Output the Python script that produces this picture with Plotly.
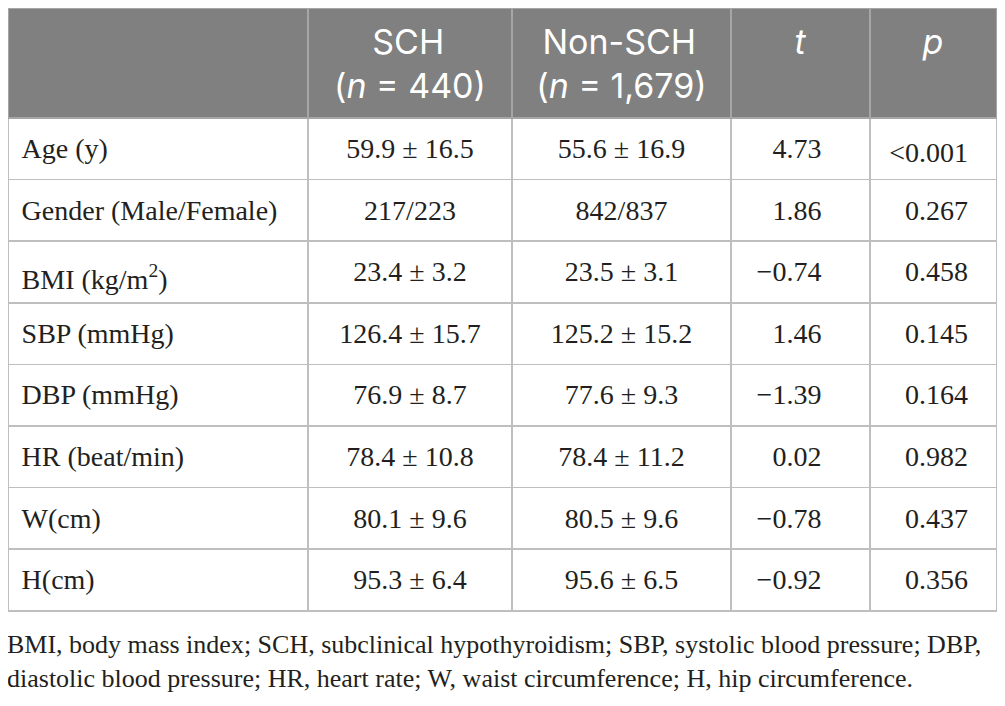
import plotly.graph_objects as go

# table contents
variables = ["Age (y)", "Gender (Male/Female)", "BMI (kg/m<sup>2</sup>)", "SBP (mmHg)",
             "DBP (mmHg)", "HR (beat/min)", "W(cm)", "H(cm)"]
sch = ["59.9 ± 16.5", "217/223", "23.4 ± 3.2", "126.4 ± 15.7",
       "76.9 ± 8.7", "78.4 ± 10.8", "80.1 ± 9.6", "95.3 ± 6.4"]
non_sch = ["55.6 ± 16.9", "842/837", "23.5 ± 3.1", "125.2 ± 15.2",
           "77.6 ± 9.3", "78.4 ± 11.2", "80.5 ± 9.6", "95.6 ± 6.5"]
t_vals = ["4.73", "1.86", "−0.74", "1.46", "−1.39", "0.02", "−0.78", "−0.92"]
p_vals = ["<0.001", "0.267", "0.458", "0.145", "0.164", "0.982", "0.437", "0.356"]

# first header line padded with nbsp so it centres over the second line
headers = ["",
           "\u00a0\u00a0\u00a0\u00a0SCH<br>(<i>n</i> = 440)",
           "\u2009Non-SCH<br>(<i>n</i> = 1,679)",
           "<i>t</i>", "<i>p</i>"]
footnote = ("BMI, body mass index; SCH, subclinical hypothyroidism; SBP, systolic blood pressure; DBP,<br>"
            "diastolic blood pressure; HR, heart rate; W, waist circumference; H, hip circumference.")

# page body has an 8px margin, so keep the figure inside the window
W, H = 989, 690
colw = [300, 204, 219, 139, 127]
n_rows = len(variables)
clear = "rgba(0,0,0,0)"
t_pad = "\u00a0" * 5 + "\u2009"
p_pad = "\u00a0" * 3

# grid + header fill
grid = go.Table(
    domain=dict(x=[0, 1], y=[0, 1]),
    columnwidth=colw,
    header=dict(
        values=[""] * len(colw),
        fill_color="#808080",
        line=dict(color="#a6a6a6", width=1.5),
        height=110,
    ),
    cells=dict(
        values=[[""] * n_rows for _ in colw],
        fill_color="white",
        line=dict(color="#bfbfbf", width=1.5),
        height=61.6,
    ),
)

# header text, nudged down a little
head_text = go.Table(
    domain=dict(x=[0, 1], y=[0, 1 - 5 / H]),
    columnwidth=colw,
    header=dict(
        values=headers,
        fill_color=clear,
        line=dict(color=clear, width=0),
        font=dict(family="Inter", size=34, color="white"),
        align="center",
        height=110,
    ),
    cells=dict(values=[[] for _ in colw], fill_color=clear,
               line=dict(color=clear, width=0)),
)

# body text, shifted down so text sits mid-row
body = go.Table(
    domain=dict(x=[0, 1], y=[0, 1 - 11 / H]),
    columnwidth=colw,
    header=dict(values=[""] * len(colw), fill_color=clear,
                line=dict(color=clear, width=0), height=110),
    cells=dict(
        values=[["\u2009" + v for v in variables], sch, non_sch,
                [v + t_pad for v in t_vals], [v + p_pad for v in p_vals]],
        fill_color=clear,
        line=dict(color=clear, width=0),
        font=dict(family="Liberation Serif", size=28, color="#231f20"),
        align=["left", "center", "center", "right", "right"],
        height=61.6,
    ),
)

fig = go.Figure([grid, head_text, body])

fig.add_annotation(
    text=footnote, x=-3 / W, y=1 - 620 / H, xref="paper", yref="paper",
    xanchor="left", yanchor="top", align="left", showarrow=False,
    font=dict(family="Liberation Serif", size=26, color="#231f20"),
)

fig.update_layout(width=W, height=H, margin=dict(l=0, r=0, t=0, b=0),
                  paper_bgcolor="white")
fig.write_html("out.html")
